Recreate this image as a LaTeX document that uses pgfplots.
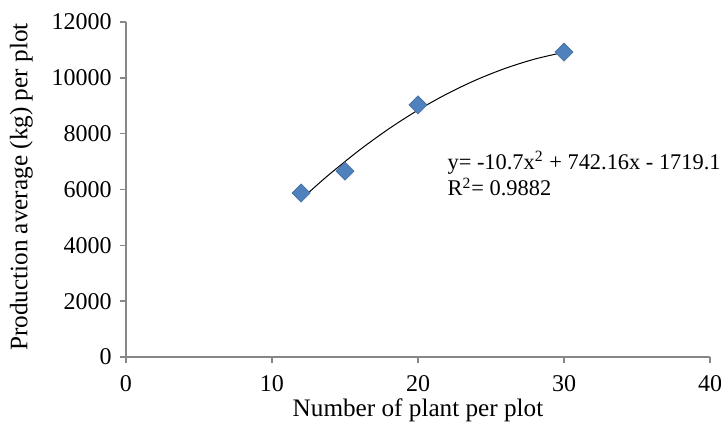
\documentclass[border=0pt]{standalone}
\usepackage{pgfplots}
\pgfplotsset{compat=1.18}
\usepackage{fontspec}
\setmainfont{Liberation Serif}
\definecolor{mk}{HTML}{4F81BD}
\definecolor{ax}{HTML}{878787}
\begin{document}
\fontsize{12}{14}\selectfont
\begin{tikzpicture}
\begin{axis}[
  at={(0,0)}, anchor=south west,
  scale only axis, width=292pt, height=167.5pt,
  xmin=0, xmax=40, ymin=0, ymax=12000,
  xtick={0,10,20,30,40}, ytick={0,2000,...,12000},
  axis lines=left, axis line style={-, ax, line width=0.7pt},
  tick style={ax, line width=0.7pt}, tick align=outside,
  major tick length=3pt,
  /pgf/number format/assume math mode=true,
  scaled ticks=false,
  yticklabel style={/pgf/number format/.cd, fixed, 1000 sep={}},
  ticklabel style={font=\fontsize{12}{14}\selectfont},
  xticklabel style={yshift=-2pt},
  xlabel={Number of plant per plot},
  ylabel={Production average (kg) per plot},
  label style={font=\fontsize{12.6}{15}\selectfont},
  xlabel style={at={(axis description cs:0.5,-0.158)}, anchor=center},
  ylabel style={at={(axis description cs:-0.179,0.507)}, anchor=center},
  clip=false,
]
\addplot[black, line width=0.5pt, smooth] coordinates {
(12,5646.02) (13,6120.68) (14,6573.94) (16,7416.26) (18,8172.98) (20,8844.1)
(22,9429.62) (24,9929.54) (26,10343.86) (28,10672.58) (30,10915.7)};
\addplot[only marks, mark=square*, mark size=3.2pt, mark options={rotate=45, fill=mk, draw=mk!85!black, line width=0.3pt}] coordinates {
(12,5875) (15,6660) (20,9030) (30,10920)};
\node[anchor=west, inner sep=0pt, font=\fontsize{11.2}{13}\selectfont] at (axis cs:22,6950) {y= -10.7x\textsuperscript{2} + 742.16x - 1719.1};
\node[anchor=west, inner sep=0pt, font=\fontsize{11.2}{13}\selectfont] at (axis cs:22,6090) {R\textsuperscript{2}= 0.9882};
\end{axis}
\pgfresetboundingbox
\path (-63pt,-36.5pt) rectangle (297.5pt,178.5pt);
\end{tikzpicture}
\end{document}
